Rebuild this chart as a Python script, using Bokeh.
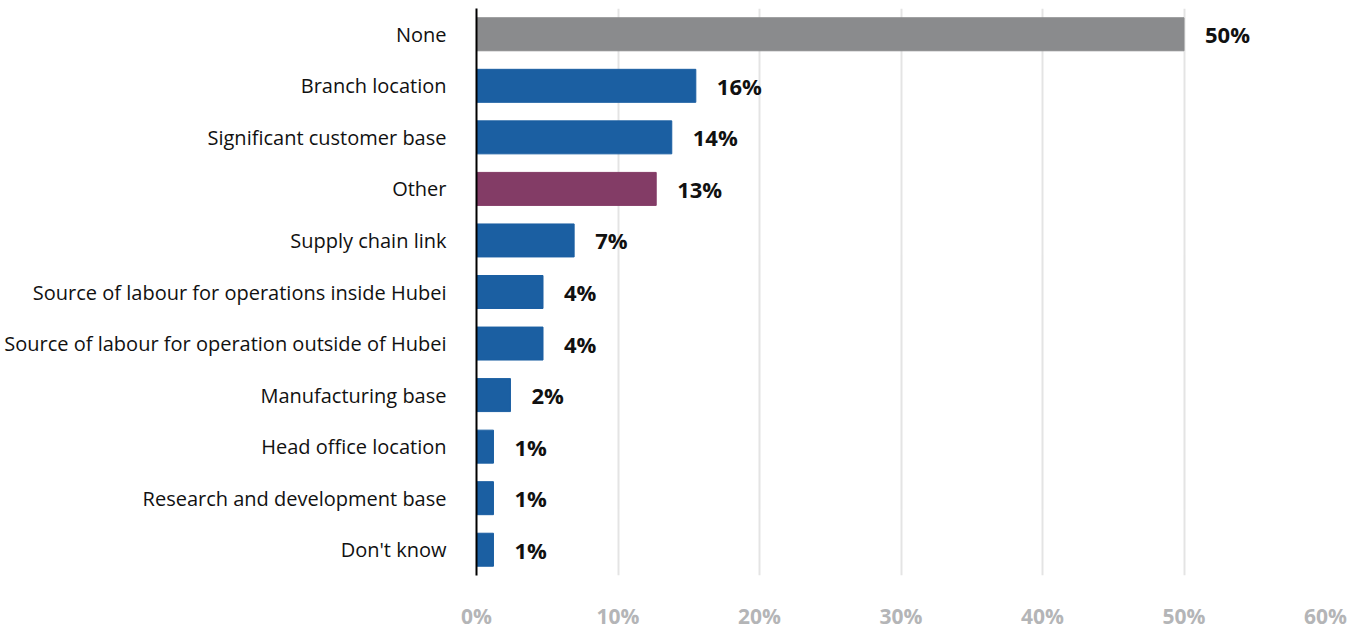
from bokeh.plotting import figure
from bokeh.models import ColumnDataSource, FactorRange, FixedTicker, CustomJSTickFormatter
from bokeh.core.properties import value
from bokeh.embed import file_html
from bokeh.resources import INLINE

categories = ["None", "Branch location", "Significant customer base", "Other",
              "Supply chain link", "Source of labour for operations inside Hubei",
              "Source of labour for operation outside of Hubei", "Manufacturing base",
              "Head office location", "Research and development base", "Don't know"]
values = [50.0, 15.5, 13.8, 12.7, 6.9, 4.7, 4.7, 2.4, 1.2, 1.2, 1.2]
labels = ["50%", "16%", "14%", "13%", "7%", "4%", "4%", "2%", "1%", "1%", "1%"]
colors = ["#8a8b8d", "#1b5fa2", "#1b5fa2", "#833c66", "#1b5fa2", "#1b5fa2",
          "#1b5fa2", "#1b5fa2", "#1b5fa2", "#1b5fa2", "#1b5fa2"]
x_ticks = [0, 10, 20, 30, 40, 50, 60]

src = ColumnDataSource(dict(cat=categories, val=values, lab=labels, col=colors))

p = figure(width=1364, height=632, output_backend="svg", toolbar_location=None,
           y_range=FactorRange(factors=list(reversed(categories)), range_padding=0),
           x_range=(0, 60),
           min_border_left=476, min_border_right=39, min_border_top=8, min_border_bottom=52)
p.outline_line_color = None
p.background_fill_color = "white"

p.hbar(y="cat", right="val", left=0, height=0.64, color="col", source=src)
p.text(x="val", y="cat", text="lab", source=src, x_offset=21,
       text_align="left", text_baseline="middle",
       text_font=value("Open Sans"), text_font_style="bold", text_font_size="22px",
       text_color="#111111")

p.xaxis.ticker = FixedTicker(ticks=x_ticks)
p.xaxis.formatter = CustomJSTickFormatter(code="return tick + '%';")
p.xaxis.axis_line_color = None
p.xaxis.major_tick_line_color = None
p.xaxis.minor_tick_line_color = None
p.xaxis.major_label_text_font = "Open Sans"
p.xaxis.major_label_text_font_style = "bold"
p.xaxis.major_label_text_font_size = "21px"
p.xaxis.major_label_text_color = "#b4b5b7"
p.xaxis.major_label_standoff = 20

p.yaxis.axis_line_color = "black"
p.yaxis.axis_line_width = 2
p.yaxis.major_tick_line_color = None
p.yaxis.minor_tick_line_color = None
p.yaxis.major_label_text_font = "Open Sans"
p.yaxis.major_label_text_font_size = "20px"
p.yaxis.major_label_text_color = "#111111"
p.yaxis.major_label_standoff = 24

p.xgrid.grid_line_color = "#e4e4e4"
p.xgrid.grid_line_width = 2
p.ygrid.grid_line_color = None

open("out.html", "w").write(file_html(p, INLINE))
